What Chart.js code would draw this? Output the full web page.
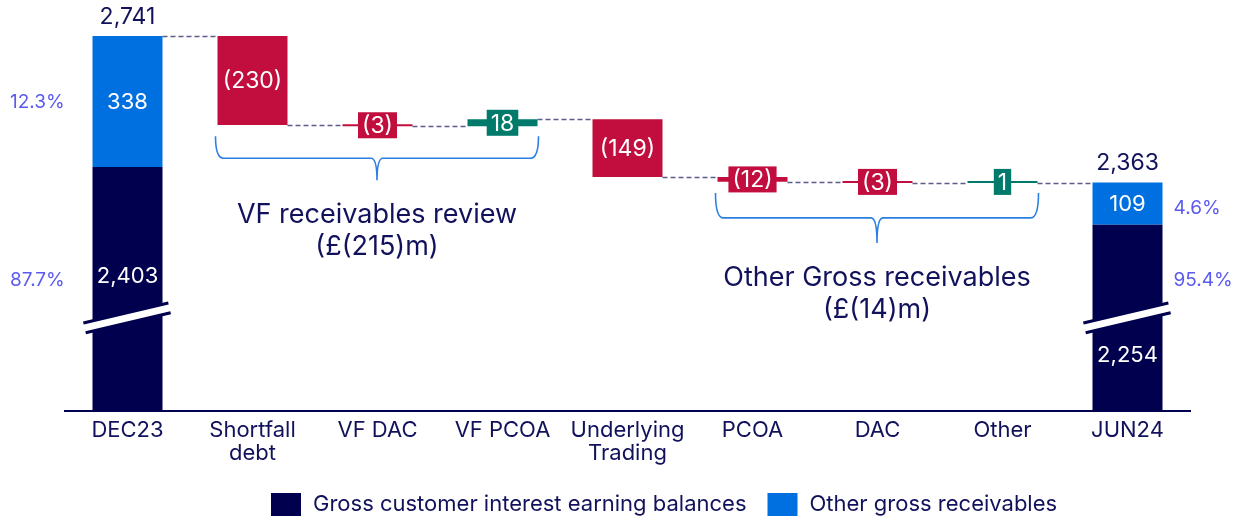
<!DOCTYPE html>
<html>
<head>
<meta charset="utf-8">
<script src="https://cdn.jsdelivr.net/npm/chart.js@4.4.1/dist/chart.umd.min.js"></script>
<style>
  html, body { margin: 0; padding: 0; background: #fff; }
  #wrap { width: 1234px; height: 519px; position: relative; }
</style>
</head>
<body>
<div id="wrap"><canvas id="waterfallChart"></canvas></div>
<script>
// ---- data ----
var categories = ['DEC23', ['Shortfall', 'debt'], 'VF DAC', 'VF PCOA', ['Underlying', 'Trading'], 'PCOA', 'DAC', 'Other', 'JUN24'];
var openingInterest = 2403;   // Gross customer interest earning balances, DEC23
var openingOther = 338;       // Other gross receivables, DEC23
var closingInterest = 2254;   // JUN24
var closingOther = 109;       // JUN24
var movements = [-230, -3, 18, -149, -12, -3, 1];
var groupLabels = [['VF receivables review', '(£(215)m)'], ['Other Gross receivables', '(£(14)m)']];
var groupRanges = [[1, 3], [5, 7]];
var axisMin = 1774, axisMax = 2800;

var NAVY = '#00004f', BLUE = '#0070e0', RED = '#c20e3e', TEAL = '#007a6b';
var TEXT = '#12125c', PCT = '#5a5af0', BRACE = '#2b7fe0', DASH = '#5c5c88';
var FONT = 'Inter, "Noto Sans", sans-serif';
var braceDepth = [44, 50];

// running levels after each bar
var levels = [openingInterest + openingOther];
movements.forEach(function (m, i) { levels.push(levels[i] + m); });

var last = categories.length - 1;
var interestData = categories.map(function () { return null; });
var otherData = categories.map(function () { return null; });
interestData[0] = [0, openingInterest];
otherData[0] = [openingInterest, openingInterest + openingOther];
interestData[last] = [0, closingInterest];
otherData[last] = [closingInterest, closingInterest + closingOther];

var moveData = categories.map(function () { return null; });
var moveColors = categories.map(function () { return RED; });
movements.forEach(function (m, i) {
  moveData[i + 1] = [levels[i], levels[i + 1]];
  moveColors[i + 1] = m < 0 ? RED : TEAL;
});

function fmt(v) { return v.toLocaleString('en-GB'); }
function fmtMove(v) { return v < 0 ? '(' + Math.abs(v) + ')' : String(v); }
function pct(a, b) { return (a / b * 100).toFixed(1) + '%'; }

var extras = {
  id: 'waterfallExtras',
  beforeDatasetsDraw: function (chart) {
    var ctx = chart.ctx, xs = chart.scales.x, ys = chart.scales.y;
    var half = chart.getDatasetMeta(0).data[0].width / 2;
    ctx.save();
    ctx.strokeStyle = DASH;
    ctx.lineWidth = 1.3;
    ctx.setLineDash([5, 3]);
    for (var k = 0; k < last; k++) {
      var yy = Math.round(ys.getPixelForValue(levels[k])) + 0.5;
      ctx.beginPath();
      ctx.moveTo(xs.getPixelForValue(k) + half, yy);
      ctx.lineTo(xs.getPixelForValue(k + 1) - half, yy);
      ctx.stroke();
    }
    ctx.restore();
  },
  afterDatasetsDraw: function (chart) {
    var ctx = chart.ctx, xs = chart.scales.x, ys = chart.scales.y;
    var half = chart.getDatasetMeta(0).data[0].width / 2;
    ctx.save();
    ctx.textAlign = 'center';
    ctx.textBaseline = 'middle';

    // axis break marks on the two total bars
    [0, last].forEach(function (i) {
      var cx = xs.getPixelForValue(i), cy = ys.getPixelForValue(2014);
      var x0 = cx - half - 8, x1 = cx + half + 7;
      ctx.lineCap = 'butt';
      ctx.strokeStyle = NAVY; ctx.lineWidth = 13;
      ctx.beginPath(); ctx.moveTo(x0, cy + 10); ctx.lineTo(x1, cy - 10); ctx.stroke();
      ctx.strokeStyle = '#fff'; ctx.lineWidth = 7;
      ctx.beginPath(); ctx.moveTo(x0 - 1, cy + 10.3); ctx.lineTo(x1 + 1, cy - 10.3); ctx.stroke();
    });

    // total labels
    var totals = [[0, openingInterest, openingOther, 108], [last, closingInterest, closingOther, 130]];
    totals.forEach(function (t) {
      var i = t[0], cx = xs.getPixelForValue(i);
      var top = ys.getPixelForValue(t[1] + t[2]), mid = ys.getPixelForValue(t[1]);
      ctx.font = '400 23px ' + FONT;
      ctx.fillStyle = TEXT;
      ctx.fillText(fmt(t[1] + t[2]), cx, top - 19);
      ctx.fillStyle = '#fff';
      ctx.font = '400 22px ' + FONT;
      ctx.fillText(fmt(t[2]), cx, (top + mid) / 2 + 1);
      ctx.fillText(fmt(t[1]), cx, mid + t[3] + 1);
    });

    // share percentages
    ctx.font = '400 19px ' + FONT;
    ctx.fillStyle = PCT;
    ctx.textAlign = 'left';
    var dTop = ys.getPixelForValue(openingInterest + openingOther), dMid = ys.getPixelForValue(openingInterest);
    ctx.fillText(pct(openingOther, openingInterest + openingOther), 10, (dTop + dMid) / 2 + 1);
    ctx.fillText(pct(openingInterest, openingInterest + openingOther), 10, 280);
    var jTop = ys.getPixelForValue(closingInterest + closingOther), jMid = ys.getPixelForValue(closingInterest);
    var jx = xs.getPixelForValue(last) + half + 11;
    ctx.fillText(pct(closingOther, closingInterest + closingOther), jx, (jTop + jMid) / 2 + 5);
    ctx.fillText(pct(closingInterest, closingInterest + closingOther), jx, 280);

    // movement labels
    ctx.textAlign = 'center';
    ctx.font = '400 23px ' + FONT;
    var meta = chart.getDatasetMeta(2);
    movements.forEach(function (m, k) {
      var el = meta.data[k + 1];
      var cy = (el.y + el.base) / 2, cx = el.x;
      var txt = fmtMove(m);
      var h = Math.abs(el.base - el.y);
      if (h < 30) {
        var w = ctx.measureText(txt).width + 8;
        ctx.fillStyle = moveColors[k + 1];
        ctx.fillRect(cx - w / 2, cy - 13, w, 26);
      }
      ctx.fillStyle = '#fff';
      ctx.fillText(txt, cx, cy + 1);
    });

    // braces with group labels
    groupRanges.forEach(function (g, n) {
      var xa = xs.getPixelForValue(g[0]) - half - 2, xb = xs.getPixelForValue(g[1]) + half + 1;
      var low = Infinity;
      for (var i = g[0]; i <= g[1]; i++) low = Math.min(low, moveData[i][0], moveData[i][1]);
      var top = ys.getPixelForValue(low) + 10, mid = (xa + xb) / 2;
      var d = braceDepth[n], hd = d / 2;
      ctx.strokeStyle = BRACE; ctx.lineWidth = 1.6; ctx.setLineDash([]);
      ctx.beginPath();
      ctx.moveTo(xa, top);
      ctx.quadraticCurveTo(xa, top + hd, xa + 8, top + hd);
      ctx.lineTo(mid - 6, top + hd);
      ctx.quadraticCurveTo(mid, top + hd, mid, top + d);
      ctx.quadraticCurveTo(mid, top + hd, mid + 6, top + hd);
      ctx.lineTo(xb - 8, top + hd);
      ctx.quadraticCurveTo(xb, top + hd, xb, top);
      ctx.stroke();
      ctx.fillStyle = TEXT;
      ctx.font = '400 27px ' + FONT;
      ctx.fillText(groupLabels[n][0], mid, top + d + 35);
      ctx.fillText(groupLabels[n][1], mid, top + d + 67);
    });
    ctx.restore();
  },
  afterDraw: function (chart) {
    // legend
    var ctx = chart.ctx;
    var items = chart.data.datasets.slice(0, 2);
    ctx.save();
    ctx.font = '400 22px ' + FONT;
    ctx.textBaseline = 'middle';
    ctx.textAlign = 'left';
    var x = 271;
    items.forEach(function (ds) {
      ctx.fillStyle = ds.backgroundColor;
      ctx.fillRect(x, 493, 30, 23);
      ctx.fillStyle = TEXT;
      ctx.fillText(ds.label, x + 42, 504);
      x += 42 + ctx.measureText(ds.label).width + 21;
    });
    ctx.restore();
  }
};

new Chart(document.getElementById('waterfallChart'), {
  type: 'bar',
  data: {
    labels: categories,
    datasets: [
      { label: 'Gross customer interest earning balances', data: interestData, backgroundColor: NAVY, grouped: false },
      { label: 'Other gross receivables', data: otherData, backgroundColor: BLUE, grouped: false },
      { label: 'Movement', data: moveData, backgroundColor: moveColors, grouped: false, minBarLength: 2 }
    ]
  },
  options: {
    responsive: true,
    maintainAspectRatio: false,
    animation: false,
    layout: { padding: { top: 13, left: 65, right: 44, bottom: 0 } },
    datasets: { bar: { barPercentage: 1, categoryPercentage: 0.56 } },
    plugins: { legend: { display: false }, tooltip: { enabled: false } },
    scales: {
      x: {
        grid: { display: false, drawTicks: false },
        border: { display: true, color: NAVY, width: 2 },
        ticks: { color: TEXT, font: { family: FONT, size: 22, lineHeight: 1.05 }, padding: 8, maxRotation: 0 },
        afterFit: function (scale) { scale.height = 108; }
      },
      y: { display: false, min: axisMin, max: axisMax }
    }
  },
  plugins: [extras]
});
</script>
</body>
</html>
